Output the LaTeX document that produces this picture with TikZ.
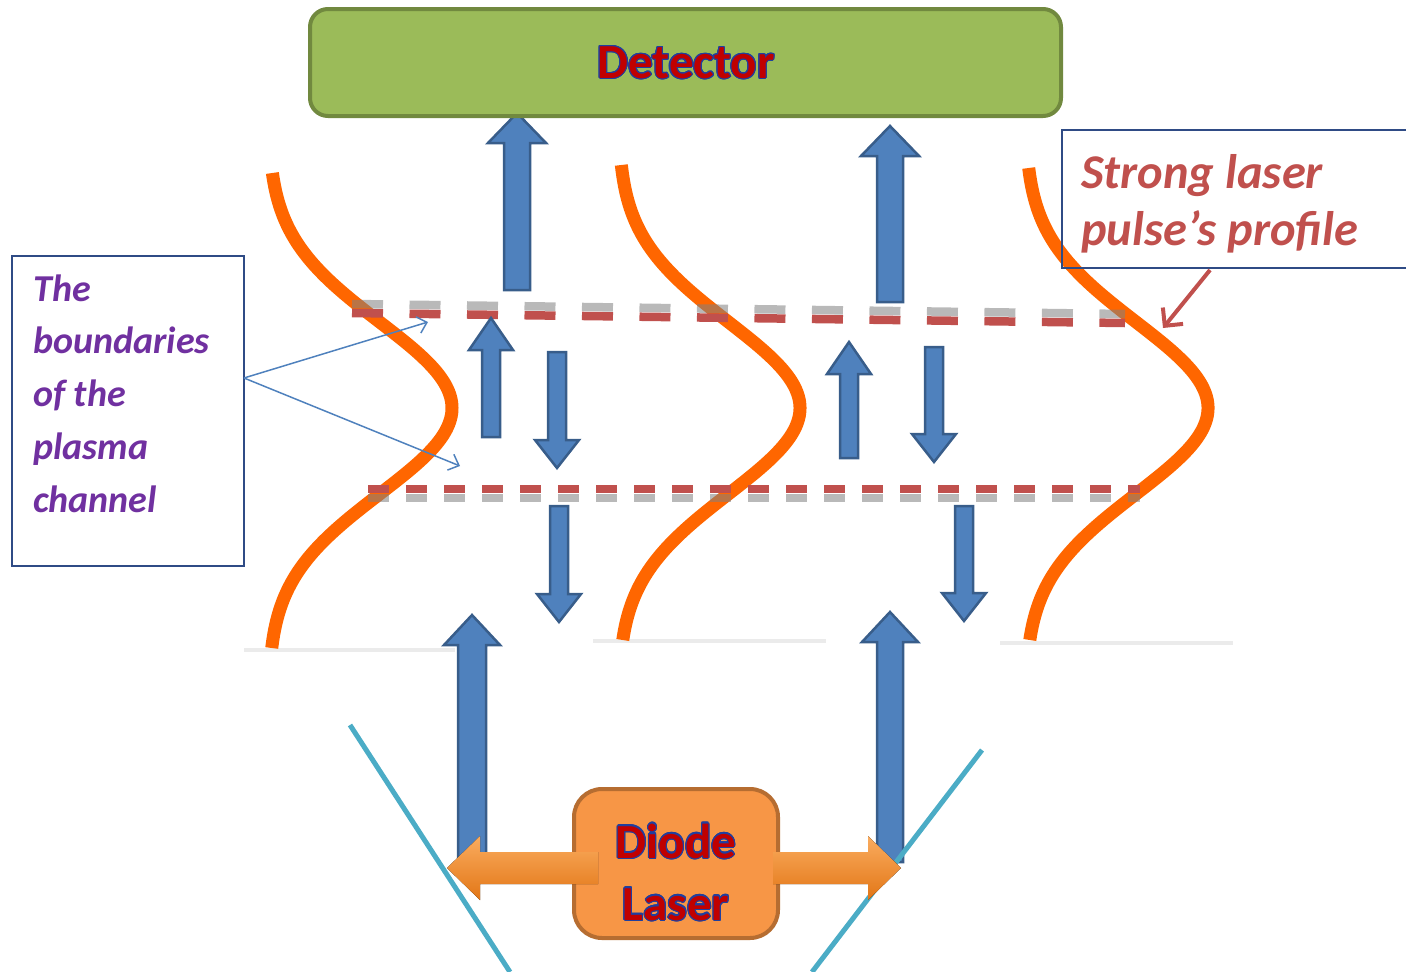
\documentclass[tikz,border=0pt]{standalone}
\usepackage{fontspec}
\newfontfamily\carl{Carlito}
\usepackage{contour}
\contourlength{1.1pt}
\usetikzlibrary{arrows.meta}
\definecolor{detfill}{HTML}{9BBB59}
\definecolor{detdraw}{HTML}{71893F}
\definecolor{blfill}{HTML}{4F81BD}
\definecolor{bldraw}{HTML}{385D8A}
\definecolor{laserorange}{HTML}{FF6600}
\definecolor{dashred}{HTML}{C0504D}
\definecolor{boxblue}{HTML}{2F4B85}
\definecolor{purp}{HTML}{7030A0}
\definecolor{cyanline}{HTML}{4BACC6}
\definecolor{diodefill}{HTML}{F79646}
\definecolor{diodedraw}{HTML}{B66D31}
\definecolor{txtred}{HTML}{C00000}
\definecolor{txtblue}{HTML}{1F3FA0}
\definecolor{groundgray}{HTML}{EBEBEB}
\tikzset{
  blockarrow/.style={fill=blfill, draw=bldraw, line width=2.5pt, line join=miter},
  orangearrow/.style={top color={rgb,255:red,250;green,172;blue,95}, bottom color={rgb,255:red,226;green,118;blue,22}, draw=none},
  profile/.style={draw=laserorange, line width=13pt},
  ground/.style={draw=groundgray, line width=4pt},
  reddash/.style={draw=dashred, line width=8.5pt},
  shadowdash/.style={draw=gray, opacity=0.55, line width=8.5pt},
  mirror/.style={draw=cyanline, line width=5pt},
  callout/.style={draw=blfill, line width=1.5pt, -{Straight Barb[length=9pt,width=17pt,line width=1.5pt]}},
  redcallout/.style={draw=dashred, line width=4pt, -{Straight Barb[length=13pt,width=26pt,line width=4pt]}},
  textbox/.style={draw=boxblue, line width=1.5pt, fill=white},
  outlined/.style={font=\carl\bfseries\fontsize{49}{60}\selectfont, inner sep=0pt},
}
\newcommand\vblock[6]{\draw[blockarrow] ({#1-#5},#4) -- ({#1-#5},#3) -- ({#1-#6},#3) -- (#1,#2) -- ({#1+#6},#3) -- ({#1+#5},#3) -- ({#1+#5},#4) -- cycle;}
\newcommand\hblock[6]{\fill[orangearrow] (#4,{#1-#5}) -- (#3,{#1-#5}) -- (#3,{#1-#6}) -- (#2,#1) -- (#3,{#1+#6}) -- (#3,{#1+#5}) -- (#4,{#1+#5}) -- cycle;}
\begin{document}
\begin{tikzpicture}[x=1pt,y=-1pt]
\useasboundingbox (0,0) rectangle (1406,972);
% ground lines
\draw[ground] (244,650) -- (455,650);
\draw[ground] (593,641) -- (826,641);
\draw[ground] (1000,643) -- (1233,643);
% laser profiles
\draw[profile] plot[domain=173:648, samples=90, smooth] ({268+184*exp(-0.5*((\x-408)/86)*((\x-408)/86))}, \x);
\draw[profile] plot[domain=165:640, samples=90, smooth] ({618+182*exp(-0.5*((\x-408)/86)*((\x-408)/86))}, \x);
\draw[profile] plot[domain=168:640, samples=90, smooth] ({1025+183*exp(-0.5*((\x-408)/86)*((\x-408)/86))}, \x);
% dashed boundaries
\draw[shadowdash, dash pattern=on 31pt off 26.5pt] (352,304) -- (1125,314);
\draw[reddash, dash pattern=on 31pt off 26.5pt] (352,313) -- (1125,323);
\draw[shadowdash, dash pattern=on 21pt off 17pt] (368,498) -- (1140,498);
\draw[reddash, dash pattern=on 21pt off 17pt] (368,489) -- (1140,489);
% blue block arrows
\vblock{517}{113}{143}{290}{13}{29}
\vblock{890}{126}{156}{302}{13}{29}
\vblock{491}{318}{350}{437}{9}{22}
\vblock{557}{468}{440}{352}{9}{22}
\vblock{849}{342}{374}{458}{9}{22}
\vblock{934}{462}{434}{347}{9}{22}
\vblock{559}{622}{594}{506}{9}{22}
\vblock{964}{621}{593}{506}{9}{22}
\vblock{472}{615}{645}{862}{14}{28}
\vblock{890}{612}{642}{862}{13}{28}
% mirrors
\draw[mirror] (350,725) -- (510,972);
\draw[mirror] (982,750) -- (812,972);
% detector
\node[draw=detdraw, fill=detfill, line width=4pt, rounded corners=18pt, minimum width=751pt, minimum height=107pt] (det) at (685.5,62.5) {};
\node[outlined] (dettext) at (686,63) {\contour{txtblue}{\textcolor{txtred}{Detector}}};
% diode laser
\node[draw=diodedraw, fill=diodefill, line width=4pt, rounded corners=28pt, minimum width=204pt, minimum height=149pt] (diode) at (676,863.5) {};
\hblock{868}{447}{480}{598}{16}{32}
\hblock{868}{901}{868}{773}{16}{32}
\node[outlined, anchor=base] (dtext1) at (676,858) {\contour{txtblue}{\textcolor{txtred}{Diode}}};
\node[outlined, anchor=base] (dtext2) at (676,920) {\contour{txtblue}{\textcolor{txtred}{Laser}}};
% left text box
\node[textbox, anchor=north west, minimum width=232pt, minimum height=310pt] (bound) at (11,255) {};
\begin{scope}[every node/.style={anchor=base west, inner sep=0pt, text=purp, font=\carl\bfseries\itshape\fontsize{38}{44}\selectfont}]
\node (b1) at (33,301) {The};
\node (b2) at (33,353) {boundaries};
\node (b3) at (33,406) {of the};
\node (b4) at (33,459) {plasma};
\node (b5) at (33,512) {channel};
\end{scope}
\coordinate (bs) at (244,378);
\coordinate (bu) at (428,322);
\coordinate (bd) at (460,466);
\draw[callout] (bs) -- (bu);
\draw[callout] (bs) -- (bd);
% right text box
\draw[textbox, fill=none] (1414,130) -- (1062,130) -- (1062,268) -- (1414,268);
\begin{scope}[every node/.style={anchor=base west, inner sep=0pt, text=dashred, font=\carl\bfseries\itshape\fontsize{48.5}{56}\selectfont}]
\node (s1) at (1081,188) {Strong laser};
\node (s2) at (1081,245) {pulse’s profile};
\end{scope}
\coordinate (rs) at (1210,270);
\coordinate (re) at (1163,328);
\draw[redcallout] (rs) -- (re);
\end{tikzpicture}
\end{document}
